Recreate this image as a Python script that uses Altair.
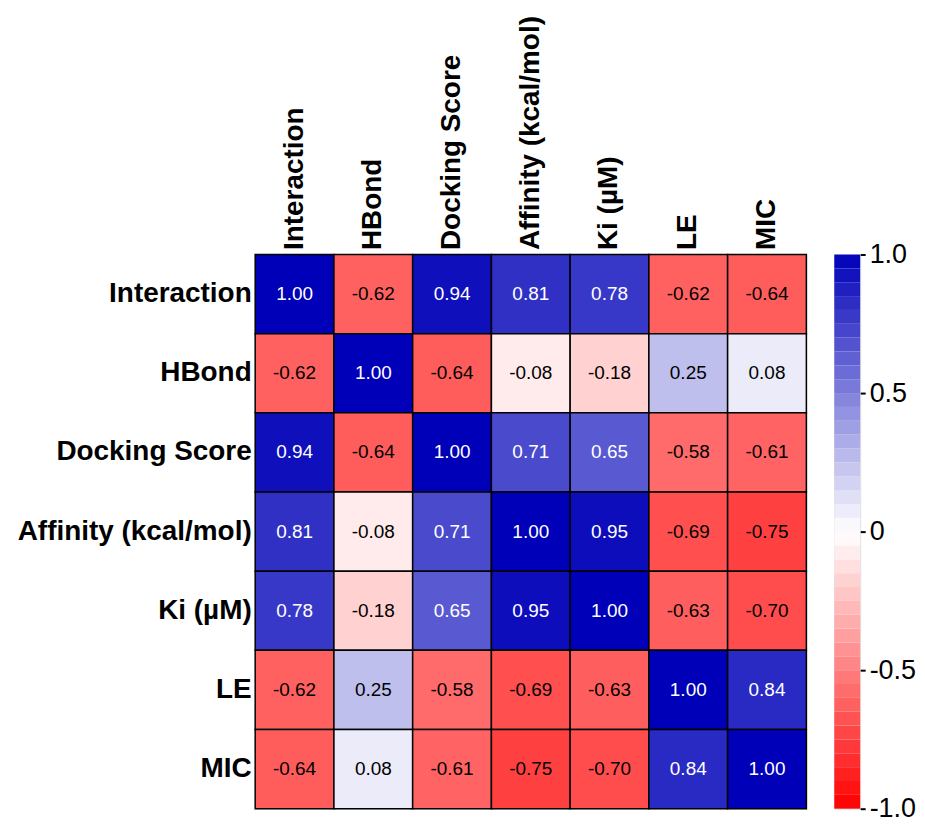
import altair as alt
import pandas as pd

labels = ["Interaction", "HBond", "Docking Score", "Affinity (kcal/mol)", "Ki (µM)", "LE", "MIC"]
row_interaction = [1.00, -0.62, 0.94, 0.81, 0.78, -0.62, -0.64]
row_hbond = [-0.62, 1.00, -0.64, -0.08, -0.18, 0.25, 0.08]
row_docking = [0.94, -0.64, 1.00, 0.71, 0.65, -0.58, -0.61]
row_affinity = [0.81, -0.08, 0.71, 1.00, 0.95, -0.69, -0.75]
row_ki = [0.78, -0.18, 0.65, 0.95, 1.00, -0.63, -0.70]
row_le = [-0.62, 0.25, -0.58, -0.69, -0.63, 1.00, 0.84]
row_mic = [-0.64, 0.08, -0.61, -0.75, -0.70, 0.84, 1.00]
rows = [row_interaction, row_hbond, row_docking, row_affinity, row_ki, row_le, row_mic]

colorbar_ticks = [-1.0, -0.5, 0.0, 0.5, 1.0]
n_bands = 40

records = []
for i, r in enumerate(labels):
    for j, c in enumerate(labels):
        v = rows[i][j]
        records.append({"row": r, "col": c, "value": v, "label": f"{v:.2f}"})
df = pd.DataFrame(records)

bands = []
for k in range(n_bands):
    lo = -1 + 2 * k / n_bands
    hi = -1 + 2 * (k + 1) / n_bands
    bands.append({"lo": lo, "hi": hi, "mid": (lo + hi) / 2})
bdf = pd.DataFrame(bands)

color_scale = alt.Scale(domain=[-1, 0, 1], range=["#ff0000", "#ffffff", "#0000b8"], interpolate="rgb")
FONT = "Liberation Sans"
W, H = 553, 556

base = alt.Chart(df).encode(
    x=alt.X("col:N", sort=labels, title=None,
            axis=alt.Axis(orient="top", labelAngle=270, labelFontSize=28, labelFontWeight="bold",
                          labelFont=FONT, labelColor="black", ticks=False, domain=False,
                          labelPadding=5, labelLimit=400)),
    y=alt.Y("row:N", sort=labels, title=None,
            axis=alt.Axis(labelFontSize=28, labelFontWeight="bold", labelFont=FONT,
                          labelColor="black", ticks=False, domain=False, labelPadding=4,
                          labelLimit=400)),
)

rects = base.mark_rect(stroke="black", strokeWidth=1.5).encode(
    color=alt.Color("value:Q", scale=color_scale, legend=None)
)
texts = base.mark_text(fontSize=19, font=FONT).encode(
    text=alt.Text("label:N"),
    color=alt.condition("datum.value > 0.5", alt.value("white"), alt.value("black")),
)
heat = (rects + texts).properties(width=W, height=H)

cbar = alt.Chart(bdf).mark_rect().encode(
    x=alt.value(0), x2=alt.value(26),
    y=alt.Y("lo:Q", scale=alt.Scale(domain=[-1, 1], nice=False), title=None,
            axis=alt.Axis(orient="right", values=colorbar_ticks,
                          labelExpr="datum.value == 0 ? '0' : replace(format(datum.value, '.1f'), '\u2212', '-')",
                          labelFontSize=27, labelFont=FONT, labelColor="black",
                          domain=False, tickColor="black", tickSize=5, tickWidth=2,
                          labelPadding=4, grid=False, labelFlush=False)),
    y2="hi:Q",
    color=alt.Color("mid:Q", scale=color_scale, legend=None),
).properties(width=26, height=H)

chart = alt.hconcat(heat, cbar, spacing=25).configure_view(
    stroke="black", strokeWidth=3
).properties(
    padding={"left": 8, "top": 5, "right": 0, "bottom": 0}
).configure(background="white")

chart.save("out.html", embed_options={"renderer": "svg", "actions": False})
